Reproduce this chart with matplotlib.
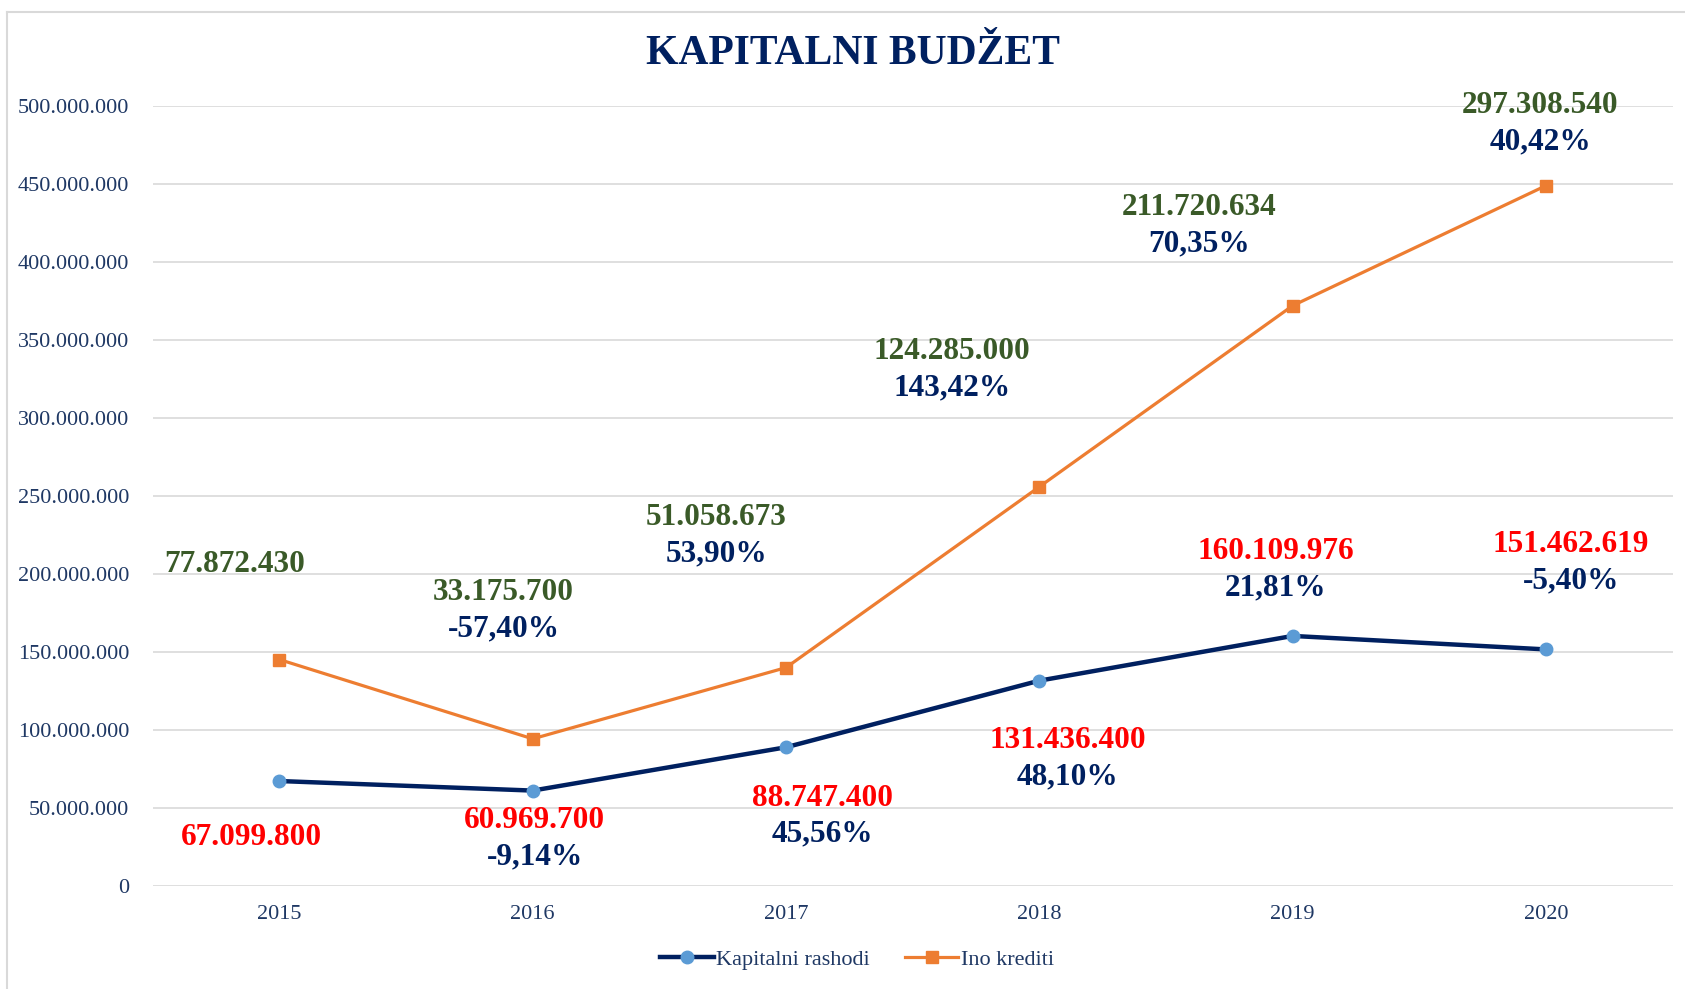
import matplotlib
matplotlib.use("Agg")
from matplotlib import pyplot as plt
from matplotlib.ticker import FuncFormatter
import numpy as np

godine = ["2015", "2016", "2017", "2018", "2019", "2020"]
kapitalni_rashodi = [67099800, 60969700, 88747400, 131436400, 160109976, 151462619]
ino_krediti = [77872430, 33175700, 51058673, 124285000, 211720634, 297308540]
rashodi_pct = ["", "-9,14%", "45,56%", "48,10%", "21,81%", "-5,40%"]
krediti_pct = ["", "-57,40%", "53,90%", "143,42%", "70,35%", "40,42%"]

# label offsets from the points, in pixels (dx, dy with y up)
rashodi_off = [(-28, -56), (2, -30), (36, -51), (28, -60), (-17, 84), (25, 105)]
krediti_off = [(-45, 95), (-29, 146), (-70, 150), (-87, 135), (-94, 98), (-6, 80)]

navy = "#002060"
txt_navy = "#1F3864"
green = "#3A5A28"

plt.rcParams["font.family"] = ["Liberation Serif", "DejaVu Serif"]

fig = plt.figure(figsize=(16.85, 9.89), dpi=100)
ax = fig.add_axes([152.7 / 1685, 1 - 885.7 / 989, 1520 / 1685, 780 / 989])

x = np.arange(len(godine))
rashodi = np.array(kapitalni_rashodi)
# stacked line chart: second series sits on top of the first
stacked = rashodi + np.array(ino_krediti)

ax.plot(x, rashodi, color=navy, lw=3.2, marker="o", markersize=9,
        markerfacecolor="#5B9BD5", markeredgecolor="#5B9BD5", label="Kapitalni rashodi", zorder=3)
ax.plot(x, stacked, color="#ED7D31", lw=2.3, marker="s", markersize=9,
        markerfacecolor="#ED7D31", markeredgecolor="#ED7D31", label="Ino krediti", zorder=3)

def fmt(v):
    return "{:,.0f}".format(v).replace(",", ".")

lab = dict(fontsize=22.5, fontweight="bold", ha="center", va="center",
           textcoords="offset pixels")
for i in range(len(godine)):
    dx, dy = rashodi_off[i]
    ax.annotate(fmt(kapitalni_rashodi[i]), (x[i], rashodi[i]), xytext=(dx, dy), color="#FF0000", **lab)
    if rashodi_pct[i]:
        ax.annotate(rashodi_pct[i], (x[i], rashodi[i]), xytext=(dx, dy - 36), color=navy, **lab)
    dx, dy = krediti_off[i]
    ax.annotate(fmt(ino_krediti[i]), (x[i], stacked[i]), xytext=(dx, dy), color=green, **lab)
    if krediti_pct[i]:
        ax.annotate(krediti_pct[i], (x[i], stacked[i]), xytext=(dx, dy - 36), color=navy, **lab)

ax.set_xlim(-0.5, 5.5)
ax.set_ylim(0, 500000000)
ax.set_yticks(np.arange(0, 500000001, 50000000))
ax.yaxis.set_major_formatter(FuncFormatter(lambda v, p: fmt(v)))
ax.set_xticks(x)
ax.set_xticklabels(godine)
ax.tick_params(axis="both", length=0, labelsize=16, labelcolor=txt_navy)
ax.tick_params(axis="x", pad=14)
ax.tick_params(axis="y", pad=17)
ax.grid(axis="y", color="#D9D9D9", lw=1.2)
ax.set_axisbelow(True)
for s in ax.spines.values():
    s.set_visible(False)

fig.text(853 / 1685, 1 - 54 / 989, "KAPITALNI BUDŽET", ha="center", va="center",
         fontsize=30, fontweight="bold", color=navy)

leg = ax.legend(loc="center", bbox_to_anchor=(857 / 1685, 1 - 960 / 989),
                bbox_transform=fig.transFigure, ncol=2, frameon=False,
                fontsize=16, handlelength=2.4, columnspacing=1.6, handletextpad=0.1)
for t in leg.get_texts():
    t.set_color(txt_navy)

# chart border (only top and left edges show in the picture)
fig.add_artist(plt.Line2D([7 / 1685, 7 / 1685], [0, 1 - 11.5 / 989], color="#D9D9D9", lw=1.5,
                          transform=fig.transFigure))
fig.add_artist(plt.Line2D([7 / 1685, 1], [1 - 11.5 / 989, 1 - 11.5 / 989], color="#D9D9D9", lw=1.5,
                          transform=fig.transFigure))

fig.savefig("out.png", dpi=100)
